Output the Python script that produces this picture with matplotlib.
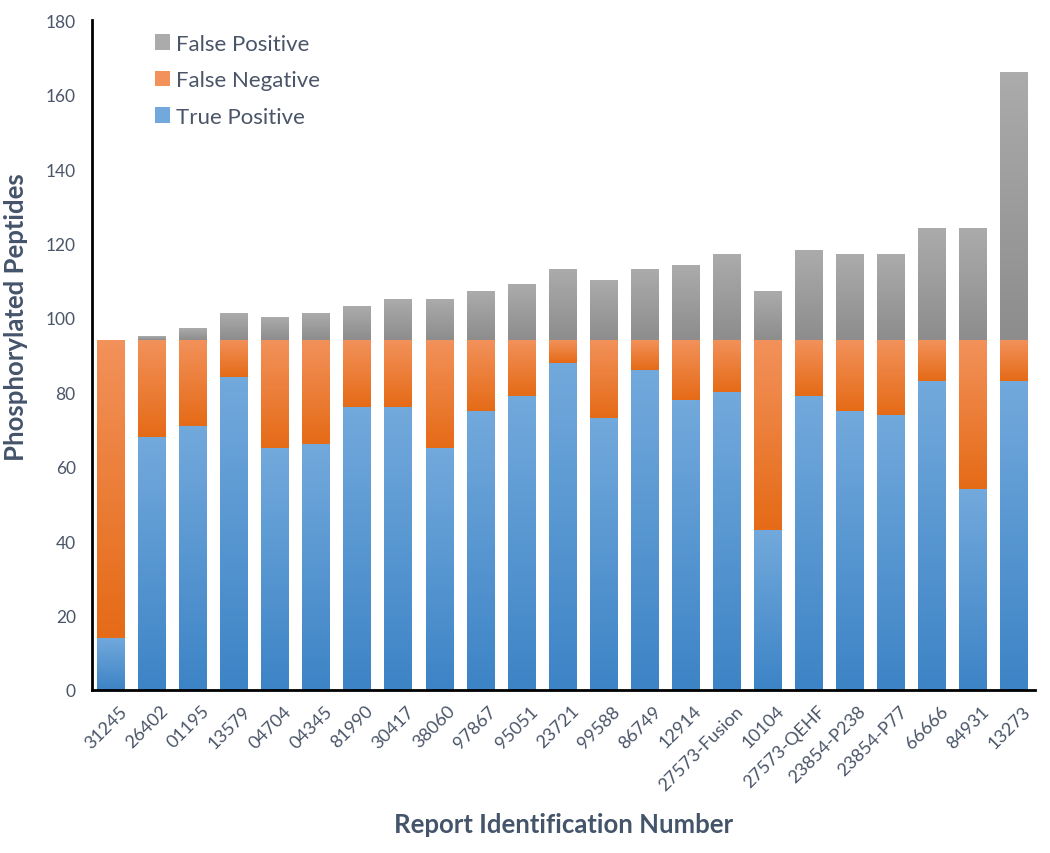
import numpy as np
import matplotlib.pyplot as plt
import matplotlib.transforms as mtrans
from matplotlib.colors import LinearSegmentedColormap

plt.rcParams['font.family'] = ['Lato', 'DejaVu Sans']

# report ids and stacked counts
reports = ["31245", "26402", "01195", "13579", "04704", "04345", "81990", "30417",
           "38060", "97867", "95051", "23721", "99588", "86749", "12914",
           "27573-Fusion", "10104", "27573-QEHF", "23854-P238", "23854-P77",
           "66666", "84931", "13273"]
true_pos = [14, 68, 71, 84, 65, 66, 76, 76, 65, 75, 79, 88, 73, 86, 78, 80, 43, 79, 75, 74, 83, 54, 83]
false_neg = [80, 26, 23, 10, 29, 28, 18, 18, 29, 19, 15, 6, 21, 8, 16, 14, 51, 15, 19, 20, 11, 40, 11]
false_pos = [0, 1, 3, 7, 6, 7, 9, 11, 11, 13, 15, 19, 16, 19, 20, 23, 13, 24, 23, 23, 30, 30, 72]

# (top colour, bottom colour) for the excel-like gradient fill
grad = {"tp": ("#72a9dc", "#3d84c6"),
        "fn": ("#f2915a", "#e56b17"),
        "fp": ("#ababab", "#8d8d8d")}
txt = "#4a5568"

fig = plt.figure(figsize=(10.5, 8.54), dpi=100)
ax = fig.add_axes([0.088, 0.191, 0.898, 0.784])

x = np.arange(len(reports))
tp = np.array(true_pos)
fn = np.array(false_neg)
fp = np.array(false_pos)
w = 0.67

b1 = ax.bar(x, tp, w, color=grad["tp"][0], label="True Positive")
b2 = ax.bar(x, fn, w, bottom=tp, color=grad["fn"][0], label="False Negative")
b3 = ax.bar(x, fp, w, bottom=tp + fn, color=grad["fp"][0], label="False Positive")

# paint gradients over the bar rectangles
g = np.linspace(0, 1, 64).reshape(-1, 1)
for bars, key in [(b1, "tp"), (b2, "fn"), (b3, "fp")]:
    cmap = LinearSegmentedColormap.from_list(key, [grad[key][1], grad[key][0]])
    for p in bars:
        bx, by, bw, bh = p.get_x(), p.get_y(), p.get_width(), p.get_height()
        if bh <= 0:
            continue
        ax.imshow(g, cmap=cmap, extent=(bx, bx + bw, by, by + bh), origin="lower",
                  aspect="auto", zorder=p.get_zorder() + 0.1)

ax.set_xlim(-0.45, 22.52)
ax.set_ylim(0, 180)
ax.set_yticks(range(0, 181, 20))
ax.set_xticks(x)
ax.set_xticklabels(reports, rotation=45, ha="right", rotation_mode="anchor")
ax.tick_params(axis="both", length=0, labelcolor=txt)
ax.tick_params(axis="y", labelsize=12.5, pad=12)
ax.tick_params(axis="x", labelsize=13, pad=9)
# nudge the slanted labels a little to the right
off = mtrans.ScaledTranslation(8 / 100, 0, fig.dpi_scale_trans)
for lab in ax.get_xticklabels():
    lab.set_transform(lab.get_transform() + off)

for s in ["top", "right"]:
    ax.spines[s].set_visible(False)
for s in ["left", "bottom"]:
    ax.spines[s].set_linewidth(2)
    ax.spines[s].set_color("black")

ax.set_ylabel("Phosphorylated Peptides", fontsize=18.5, fontweight="bold", color="#44546a")
ax.yaxis.set_label_coords(-0.068, 0.558)
ax.set_xlabel("Report Identification Number", fontsize=18.5, fontweight="bold", color="#44546a", labelpad=14)

h, l = ax.get_legend_handles_labels()
ax.legend(h[::-1], l[::-1], loc="upper left", bbox_to_anchor=(0.045, 1.01), frameon=False,
          fontsize=16, labelcolor=txt, handlelength=0.7, handleheight=0.7,
          handletextpad=0.25, labelspacing=0.75)

fig.savefig("out.png", dpi=100)
